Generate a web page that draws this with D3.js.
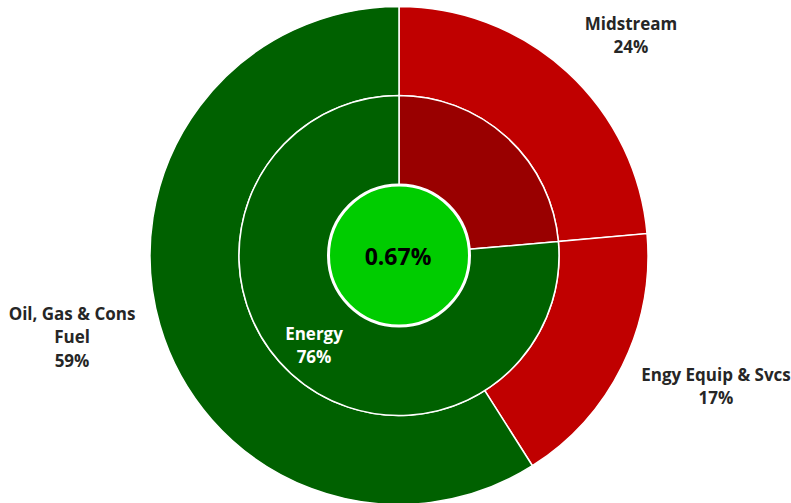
<!DOCTYPE html>
<html>
<head>
<meta charset="utf-8">
<script src="https://cdn.jsdelivr.net/npm/d3@7"></script>
<style>
  html, body { margin: 0; padding: 0; background: #ffffff; }
  svg { display: block; }
  text { font-family: "Open Sans", "Noto Sans", sans-serif; font-weight: bold; }
</style>
</head>
<body>
<svg id="chart" width="791" height="503"></svg>
<script>
// ---- data ----
const outerCategories = ["Midstream", "Engy Equip & Svcs", "Oil, Gas & Cons Fuel"];
const outerValues = [23.6, 17.4, 59.0];
const outerLabelLines = [["Midstream", "24%"], ["Engy Equip & Svcs", "17%"], ["Oil, Gas & Cons", "Fuel", "59%"]];
const outerColors = ["#C00000", "#C00000", "#006100"];

const innerCategories = ["", "Energy"];
const innerValues = [23.6, 76.4];
const innerLabelLines = [[], ["Energy", "76%"]];
const innerColors = ["#990000", "#006100"];

const centerText = "0.67%";
const centerColor = "#00CC00";

// ---- layout ----
const W = 791, H = 503;
const cx = 399, cy = 255.5;
const rOuter = 249, rMid = 160, rInner = 70.5;

const svg = d3.select("#chart");
const g = svg.append("g").attr("transform", `translate(${cx},${cy})`);

const pie = d3.pie().sort(null).value(d => d).startAngle(0).endAngle(2 * Math.PI);

const outerArc = d3.arc().innerRadius(rMid).outerRadius(rOuter);
const innerArc = d3.arc().innerRadius(rInner).outerRadius(rMid);

g.selectAll("path.outer")
  .data(pie(outerValues))
  .join("path")
  .attr("class", "outer")
  .attr("d", outerArc)
  .attr("fill", (d, i) => outerColors[i])
  .attr("stroke", "#ffffff")
  .attr("stroke-width", 1.5);

g.selectAll("path.inner")
  .data(pie(innerValues))
  .join("path")
  .attr("class", "inner")
  .attr("d", innerArc)
  .attr("fill", (d, i) => innerColors[i])
  .attr("stroke", "#ffffff")
  .attr("stroke-width", 1.5);

// center disc
g.append("circle")
  .attr("r", rInner)
  .attr("fill", centerColor)
  .attr("stroke", "#ffffff")
  .attr("stroke-width", 3);

g.append("text")
  .attr("x", -1)
  .attr("y", 9)
  .attr("text-anchor", "middle")
  .attr("font-size", 23)
  .attr("fill", "#000000")
  .text(centerText);

// label anchor positions (text placement, relative to chart centre)
const outerLabelPos = [[232, -225.5], [317, 125.5], [-327, 64.5]];
const innerLabelPos = [[0, 0], [-85, 84.5]];
const lineH = 23.3;

function drawLabels(lines, pos, color, cls) {
  const t = g.selectAll("text." + cls)
    .data(lines)
    .join("text")
    .attr("class", cls)
    .attr("text-anchor", "middle")
    .attr("font-size", 17)
    .attr("fill", color)
    .attr("x", (d, i) => pos[i][0])
    .attr("y", (d, i) => pos[i][1]);
  t.selectAll("tspan")
    .data((d, i) => d.map(s => ({ s, x: pos[i][0] })))
    .join("tspan")
    .attr("x", d => d.x)
    .attr("dy", (d, j) => j === 0 ? 0 : lineH)
    .text(d => d.s);
}

drawLabels(outerLabelLines, outerLabelPos, "#262626", "olab");
drawLabels(innerLabelLines, innerLabelPos, "#ffffff", "ilab");
</script>
</body>
</html>
